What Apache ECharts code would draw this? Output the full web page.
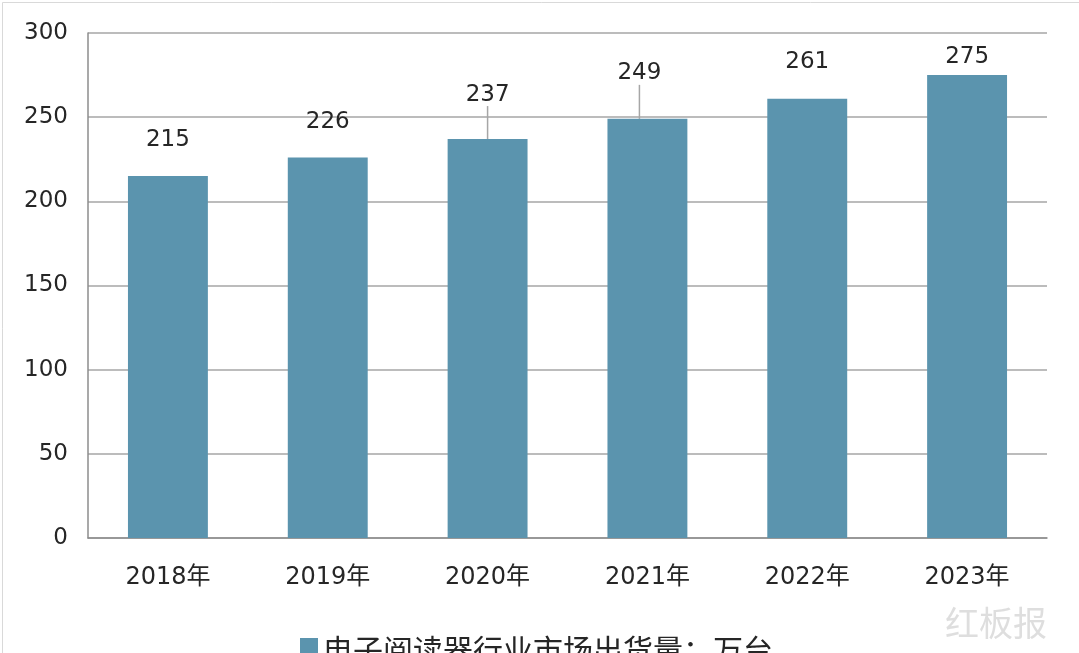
<!DOCTYPE html>
<html>
<head>
<meta charset="utf-8">
<script src="https://cdn.jsdelivr.net/npm/echarts@6/dist/echarts.min.js"></script>
<style>html,body{margin:0;padding:0;background:#fff;}#c{width:1079px;height:653px;}</style>
</head>
<body>
<div id="c"></div>
<script>
const categories = ['2018年','2019年','2020年','2021年','2022年','2023年'];
const values = [215, 226, 237, 249, 261, 275];
const seriesName = '电子阅读器行业市场出货量：万台';
const yTicks = [0, 50, 100, 150, 200, 250, 300];

const labelDistance = [25, 24, 24, 24, 25, 7];
const movedLabels = {2: {dx: 0, dy: -9}, 3: {dx: -8, dy: -10}};

const chart = echarts.init(document.getElementById('c'));
const font = '"DejaVu Sans","Noto Sans CJK SC",sans-serif';
const txt = '#262626';
chart.setOption({
  animation: false,
  backgroundColor: '#fff',
  textStyle: {fontFamily: font},
  grid: {left: 88, right: 32, top: 33, bottom: 115, containLabel: false},
  legend: {
    left: 295, top: 630, itemWidth: 18, itemHeight: 24, itemGap: 10,
    icon: 'rect',
    textStyle: {fontSize: 30, color: txt, fontFamily: '"Noto Sans CJK SC",sans-serif'},
    data: [seriesName]
  },
  xAxis: {
    type: 'category', data: categories,
    axisLine: {lineStyle: {color: '#8c8c8c', width: 1.5}},
    axisTick: {show: false},
    axisLabel: {fontSize: 24, color: txt, margin: 28, fontFamily: font}
  },
  yAxis: {
    type: 'value', min: 0, max: 300, interval: 50,
    axisLine: {show: true, lineStyle: {color: '#8c8c8c', width: 1.5}},
    axisTick: {show: false},
    axisLabel: {fontSize: 23, color: txt, margin: 20, fontFamily: font,
      formatter: v => yTicks.includes(v) ? String(v) : ''},
    splitLine: {lineStyle: {color: '#a6a6a6', width: 1.5}}
  },
  series: [{
    name: seriesName, type: 'bar', barWidth: '50%',
    itemStyle: {color: '#5b94ae'},
    data: values.map((v, i) => ({
      value: v,
      label: {distance: labelDistance[i]},
      labelLine: movedLabels[i] ? {show: true, lineStyle: {color: '#a6a6a6', width: 1.5}} : {show: false}
    })),
    label: {show: true, position: 'top', fontSize: 23, color: txt, fontFamily: font},
    labelLayout: function (p) {
      const m = movedLabels[p.dataIndex];
      return m ? {dx: m.dx, dy: m.dy} : {};
    }
  }],
  graphic: [
    {type: 'rect', left: 0, top: 0, shape: {width: 1078, height: 652}, style: {fill: 'none', stroke: '#d9d9d9', lineWidth: 1}, silent: true},
    {type: 'text', left: 945, top: 606, style: {text: '红板报', fontSize: 34, fill: 'rgba(200,200,200,0.6)', fontFamily: '"Noto Sans CJK SC",sans-serif'}, silent: true}
  ]
});
</script>
</body>
</html>
